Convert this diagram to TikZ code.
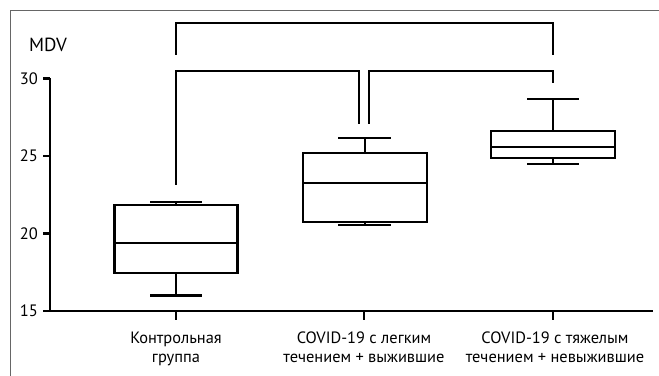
\documentclass[tikz,border=0pt]{standalone}
\usepackage{fontspec}
\setmainfont{PT Sans}
\begin{document}
\begin{tikzpicture}[x=1bp,y=1bp,line join=miter,
  boxline/.style={black,line width=2.4bp},
  barline/.style={black,line width=2bp},
  axisline/.style={black,line width=2.2bp},
  ticklbl/.style={anchor=east,inner sep=0pt,font=\fontsize{16.5bp}{18bp}\selectfont},
  catlbl/.style={anchor=north,inner sep=0pt,align=center,font=\fontsize{16.4bp}{18.5bp}\selectfont},
]
\useasboundingbox (0bp,0bp) rectangle (659bp,376bp);
%%
\draw [gray!80!black,line width=1bp] (10bp,0bp) -- (10bp,365bp) -- (659bp,365bp);
%
\node (node_mdv) at (29bp,331bp) [anchor=west,inner sep=0pt,font=\fontsize{19bp}{20bp}\selectfont] {MDV};
  \node (node_4) at (38bp,297.5bp) [ticklbl] {30};
  \node (node_3) at (38bp,220bp) [ticklbl] {25};
  \node (node_2) at (38bp,142.5bp) [ticklbl] {20};
  \node (node_1) at (38bp,65bp) [ticklbl] {15};
%
  \draw [axisline] (50bp,297.5bp) -- (50bp,65bp) -- (653bp,65bp);
  \draw [axisline] (43bp,297.5bp) -- (50bp,297.5bp);
  \draw [axisline] (43bp,220bp) -- (50bp,220bp);
  \draw [axisline] (43bp,142.5bp) -- (50bp,142.5bp);
  \draw [axisline] (43bp,65bp) -- (50bp,65bp);
  \draw [axisline] (176bp,65bp) -- (176bp,56bp);
  \draw [axisline] (364bp,65bp) -- (364bp,56bp);
  \draw [axisline] (553bp,65bp) -- (553bp,56bp);
%
\node (node_ctrl) at (176bp,44bp) [catlbl] {Контрольная\\группа};
  \node (node_mild) at (364bp,44bp) [catlbl] {COVID-19 с легким\\течением + выжившие};
  \node (node_sev) at (555bp,44bp) [catlbl] {COVID-19 с тяжелым\\течением + невыжившие};
%
% control group
  \draw [boxline] (114.5bp,103bp) rectangle (237.5bp,171bp);
  \draw [boxline] (114.5bp,133bp) -- (237.5bp,133bp);
  \draw [boxline] (176bp,103bp) -- (176bp,80.5bp);
  \draw [boxline] (150bp,80.5bp) -- (202bp,80.5bp);
  \draw [boxline] (176bp,171bp) -- (176bp,174bp);
  \draw [boxline] (150bp,174bp) -- (202bp,174bp);
% mild + survived
  \draw [boxline] (303bp,154bp) rectangle (427bp,223bp);
  \draw [boxline] (303bp,193bp) -- (427bp,193bp);
  \draw [boxline] (365bp,154bp) -- (365bp,151bp);
  \draw [boxline] (338bp,151bp) -- (391bp,151bp);
  \draw [boxline] (365bp,223bp) -- (365bp,238bp);
  \draw [boxline] (338bp,238bp) -- (391bp,238bp);
% severe + died
  \draw [boxline] (491bp,218bp) rectangle (615bp,245bp);
  \draw [boxline] (491bp,229bp) -- (615bp,229bp);
  \draw [boxline] (553bp,218bp) -- (553bp,212bp);
  \draw [boxline] (527bp,212bp) -- (579bp,212bp);
  \draw [boxline] (553bp,245bp) -- (553bp,277bp);
  \draw [boxline] (527bp,277bp) -- (579bp,277bp);
%
% significance brackets
  \draw [barline] (176bp,321bp) -- (176bp,353bp) -- (553bp,353bp) -- (553bp,321bp);
  \draw [barline] (176bp,191bp) -- (176bp,305bp) -- (359bp,305bp) -- (359bp,252bp);
  \draw [barline] (369bp,252bp) -- (369bp,305bp) -- (553bp,305bp) -- (553bp,293bp);
%
\end{tikzpicture}
\end{document}
